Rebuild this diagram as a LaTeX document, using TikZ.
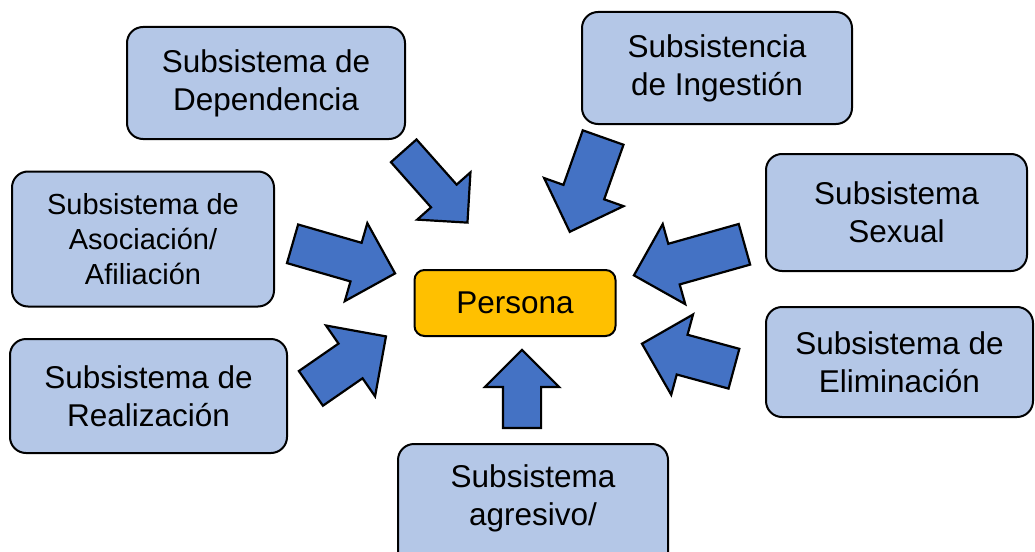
\documentclass[tikz,border=0pt]{standalone}
\usepackage{fontspec}
\setmainfont{Liberation Sans}
\usetikzlibrary{shapes.arrows}
\definecolor{boxblue}{HTML}{B4C7E7}
\definecolor{arrowblue}{HTML}{4472C4}
\definecolor{persgold}{HTML}{FFC000}
\tikzset{
  sbox/.style={draw=black, fill=boxblue, line width=2pt, rounded corners=16pt,
    align=center, inner sep=0pt, font=\fontsize{31.5}{38}\selectfont},
  blockarrow/.style n args={3}{single arrow, draw=black, fill=arrowblue, line width=2.2pt,
    inner xsep=0pt, inner ysep=#2, single arrow head extend=#3, minimum height=#1,
    minimum width=1pt, single arrow tip angle=90, anchor=tail}
}
\begin{document}
\begin{tikzpicture}[x=1pt,y=-1pt]
\useasboundingbox (0,0) rectangle (1035,551);
\clip (0,0) rectangle (1035,551);
% boxes
\node[sbox, minimum width=278pt, minimum height=112pt] (dep) at (266,83) {Subsistema de\\Dependencia};
\node[sbox, minimum width=270pt, minimum height=112pt] (ing) at (717,68) {Subsistencia\\de Ingestión};
\node[sbox, minimum width=261pt, minimum height=117pt] (sex) at (896.5,212.5) {Subsistema\\Sexual};
\node[sbox, minimum width=267pt, minimum height=110pt] (eli) at (899.5,362) {Subsistema de\\Eliminación};
\node[sbox, minimum width=277pt, minimum height=114pt] (rea) at (148.5,396) {Subsistema de\\Realización};
\node[sbox, minimum width=262pt, minimum height=135pt, font=\fontsize{29}{35}\selectfont] (aso) at (143,239) {Subsistema de\\Asociación/\\Afiliación};
\node[sbox, minimum width=270pt, minimum height=150pt, anchor=north] (agr) at (533,443) {};
\node[align=center, inner sep=0pt, font=\fontsize{31.5}{38}\selectfont] (agrtext) at (533,498.5) {Subsistema\\agresivo/};
\node[draw=black, fill=persgold, line width=2pt, rounded corners=10pt, minimum width=201pt, minimum height=66pt, inner sep=0pt, font=\fontsize{31.5}{38}\selectfont] (per) at (515,303) {Persona};
% block arrows
\node[blockarrow={96pt}{16pt}{18.5pt}, rotate=-48.4] (a1) at (403,150) {};
\node[blockarrow={100pt}{20.5pt}{20.5pt}, rotate=-109.5] (a2) at (603.5,136.5) {};
\node[blockarrow={106.7pt}{19pt}{20.5pt}, rotate=-16.1] (a3) at (291.5,243.5) {};
\node[blockarrow={91.3pt}{20pt}{22pt}, rotate=34.7] (a4) at (310,389) {};
\node[blockarrow={114.8pt}{20pt}{20.5pt}, rotate=-164.3] (a5) at (745.5,244) {};
\node[blockarrow={95.3pt}{19.5pt}{21pt}, rotate=164.8] (a6) at (735,369) {};
\node[blockarrow={78pt}{18pt}{18pt}, rotate=90] (a7) at (522,429) {};
\end{tikzpicture}
\end{document}
